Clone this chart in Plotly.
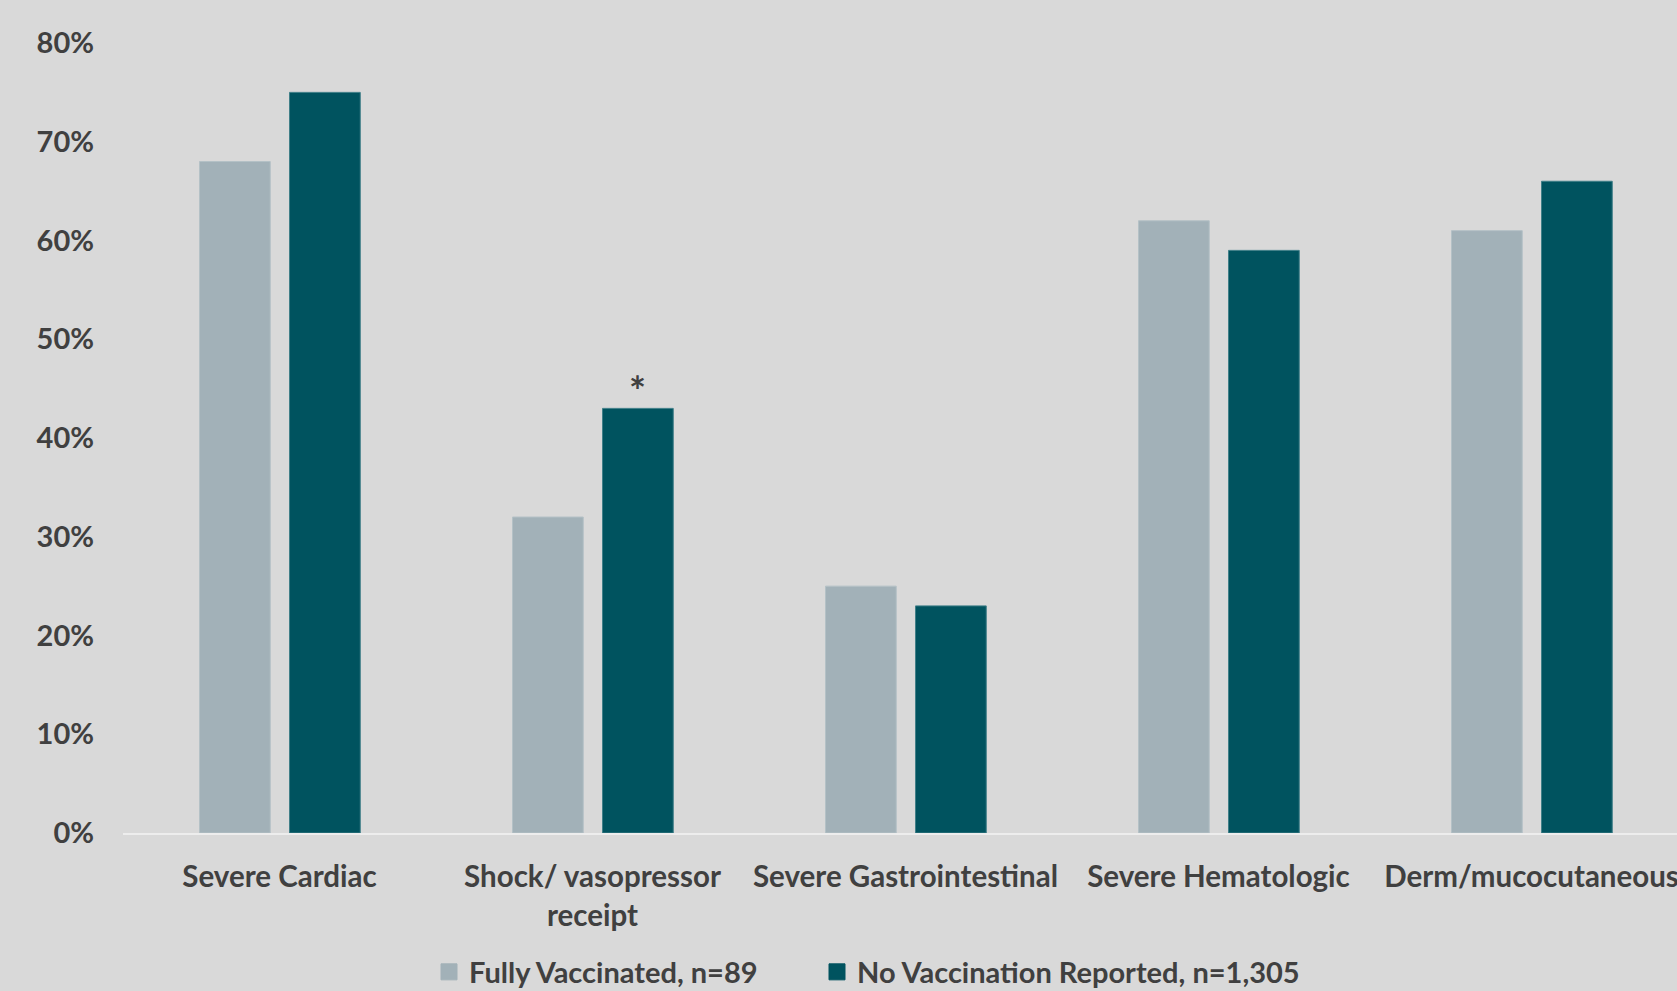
import plotly.graph_objects as go

categories = ["Severe Cardiac", "Shock/ vasopressor<br>receipt", "Severe Gastrointestinal",
              "Severe Hematologic", "Derm/mucocutaneous"]
fully_vaccinated = [68, 32, 25, 62, 61]
no_vaccination = [75, 43, 23, 59, 66]
series_names = ["Fully Vaccinated, n=89", "No Vaccination Reported, n=1,305"]
y_ticks = [0, 10, 20, 30, 40, 50, 60, 70, 80]
y_tick_labels = [f"{v}%" for v in y_ticks]
significant = [False, True, False, False, False]

BG = "#D9D9D9"
TXT = "#404040"
C_VAX = "#A2B1B8"
C_UNVAX = "#00535F"
FONT = "Lato, 'Open Sans', sans-serif"

bar_w = 0.226
off_vax = -0.2556
off_unvax = 0.032
xpos = list(range(len(categories)))

W, H = 1677, 991
ml, mt, mb = 123, 43, 158
cat_px = 313.0
plot_w = W - ml
plot_h = H - mt - mb

fig = go.Figure()
fig.add_trace(go.Bar(
    x=xpos, y=fully_vaccinated, name=series_names[0],
    marker=dict(color=C_VAX, line=dict(color="#B4C1C6", width=1)),
    width=bar_w, offset=off_vax, showlegend=False,
))
fig.add_trace(go.Bar(
    x=xpos, y=no_vaccination, name=series_names[1],
    marker=dict(color=C_UNVAX, line=dict(color="#3F7F88", width=1)),
    width=bar_w, offset=off_unvax, showlegend=False,
))
# legend entries (square swatches like the reference)
for name, col, leg in [(series_names[0], C_VAX, "legend"), (series_names[1], C_UNVAX, "legend2")]:
    fig.add_trace(go.Scatter(
        x=[None], y=[None], mode="markers", name=name, legend=leg,
        marker=dict(symbol="square", size=16, color=col, line=dict(color=col, width=1)),
        hoverinfo="skip",
    ))

for i, sig in enumerate(significant):
    if sig:
        fig.add_annotation(
            x=i + off_unvax + bar_w / 2, y=no_vaccination[i],
            text="*", showarrow=False, yanchor="bottom", yshift=-9,
            font=dict(family=FONT, size=40, color=TXT, weight="bold"),
        )

legend_font = dict(family=FONT, size=29, color=TXT, weight="bold")
leg_y = -(972 - (H - mb)) / plot_h

fig.update_layout(
    width=W, height=H,
    margin=dict(l=ml, r=0, t=mt, b=mb, pad=0, autoexpand=False),
    paper_bgcolor=BG, plot_bgcolor=BG,
    barmode="overlay",
    font=dict(family=FONT, color=TXT),
    showlegend=True,
    legend=dict(
        orientation="h", x=(429 - ml) / plot_w, xanchor="left",
        y=leg_y, yanchor="middle", font=legend_font,
        bgcolor="rgba(0,0,0,0)",
    ),
    legend2=dict(
        orientation="h", x=(817 - ml) / plot_w, xanchor="left",
        y=leg_y, yanchor="middle", font=legend_font,
        bgcolor="rgba(0,0,0,0)",
    ),
    xaxis=dict(
        range=[-0.5, -0.5 + plot_w / cat_px],
        tickmode="array", tickvals=xpos, ticktext=categories,
        tickangle=0, showgrid=False, zeroline=False,
        showline=True, linecolor="#EDEDED", linewidth=2,
        ticks="", ticklabelstandoff=17, ticklabeloverflow="allow",
        tickfont=dict(family=FONT, size=29.5, color=TXT, weight="bold"),
        fixedrange=True,
    ),
    yaxis=dict(
        range=[0, 80], tickmode="array", tickvals=y_ticks, ticktext=y_tick_labels,
        showgrid=False, zeroline=False, showline=False, ticks="",
        ticklabelstandoff=28,
        tickfont=dict(family=FONT, size=29, color=TXT, weight="bold"),
        fixedrange=True,
    ),
)

fig.write_html("out.html")
